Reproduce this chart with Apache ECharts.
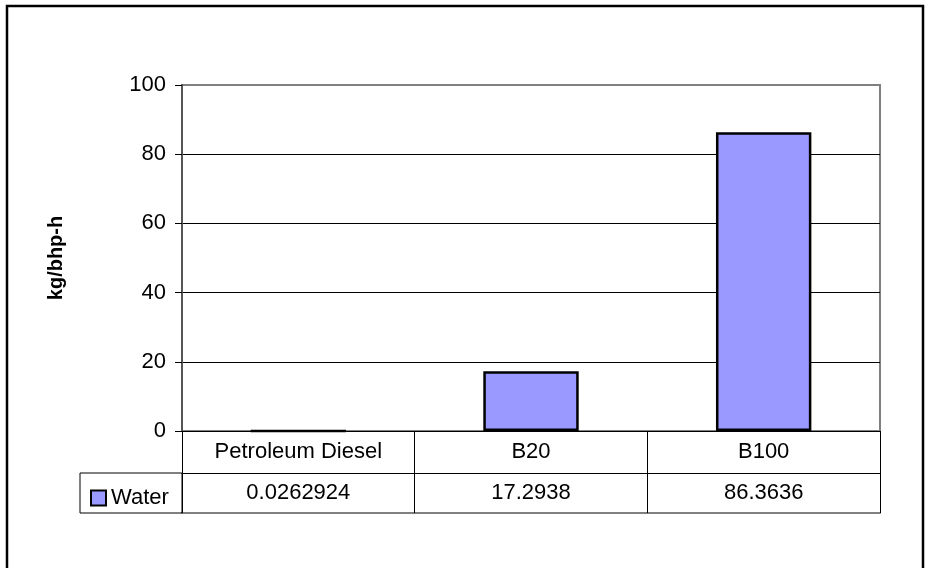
<!DOCTYPE html>
<html>
<head>
<meta charset="utf-8">
<script src="https://cdn.jsdelivr.net/npm/echarts@6/dist/echarts.min.js"></script>
<style>
html,body{margin:0;padding:0;background:#fff;}
#chart{width:929px;height:568px;}
</style>
</head>
<body>
<div id="chart"></div>
<script>
const categories = ['Petroleum Diesel', 'B20', 'B100'];
const seriesName = 'Water';
const waterValues = [0.0262924, 17.2938, 86.3636];
const yTicks = [0, 20, 40, 60, 80, 100];
const yTitle = 'kg/bhp-h';

const FONT = 'Liberation Sans';
const chart = echarts.init(document.getElementById('chart'), null, {renderer: 'canvas'});

const option = {
  backgroundColor: '#ffffff',
  animation: false,
  grid: {
    left: 182, right: 49, top: 85, bottom: 137,
    show: true, borderColor: '#808080', borderWidth: 2, backgroundColor: 'transparent'
  },
  legend: {
    show: true,
    left: 85, top: 482,
    itemWidth: 15, itemHeight: 15, itemGap: 4,
    icon: 'rect',
    data: [seriesName],
    textStyle: {fontFamily: FONT, fontSize: 22, color: '#000'},
    itemStyle: {borderColor: '#000', borderWidth: 2}
  },
  xAxis: [
    {
      type: 'category', data: categories, position: 'bottom',
      axisLine: {show: true, lineStyle: {color: '#000', width: 1}},
      axisTick: {show: true, length: 82, lineStyle: {color: '#000', width: 1}},
      axisLabel: {fontFamily: FONT, fontSize: 22, color: '#000', margin: 10}
    },
    {
      type: 'category', data: waterValues.map(v => String(v)), position: 'bottom', offset: 42,
      axisLine: {show: true, lineStyle: {color: '#000', width: 1}},
      axisTick: {show: false},
      axisLabel: {fontFamily: FONT, fontSize: 22, color: '#000', margin: 9}
    },
    {
      type: 'category', data: categories, position: 'bottom', offset: 82,
      axisLine: {show: true, lineStyle: {color: '#808080', width: 2}},
      axisTick: {show: false},
      axisLabel: {show: false}
    }
  ],
  yAxis: {
    type: 'value', min: yTicks[0], max: yTicks[yTicks.length - 1], interval: 20,
    name: yTitle, nameLocation: 'middle', nameGap: 116,
    nameTextStyle: {fontFamily: FONT, fontSize: 20, fontWeight: 'bold', color: '#000'},
    axisLine: {show: true, lineStyle: {color: '#555', width: 2}},
    axisTick: {show: true, length: 7, lineStyle: {color: '#000', width: 1}},
    axisLabel: {fontFamily: FONT, fontSize: 22, color: '#000', margin: 16},
    splitLine: {show: true, lineStyle: {color: ['#000','#000','#000','#000','#000','#808080'], width: 1}}
  },
  series: [{
    name: seriesName, type: 'bar', xAxisIndex: 0, data: waterValues,
    barWidth: '41%',
    itemStyle: {color: '#9999FF', borderColor: '#000', borderWidth: 2.5}
  }],
  graphic: [
    {type: 'rect', shape: {x: 7, y: 6, width: 916, height: 600}, style: {fill: 'none', stroke: '#000', lineWidth: 2.5}, silent: true, z: 100},
    {type: 'rect', shape: {x: 80, y: 473, width: 102, height: 40}, style: {fill: 'none', stroke: '#000', lineWidth: 1}, silent: true, z: 100}
  ]
};
chart.setOption(option);
</script>
</body>
</html>
